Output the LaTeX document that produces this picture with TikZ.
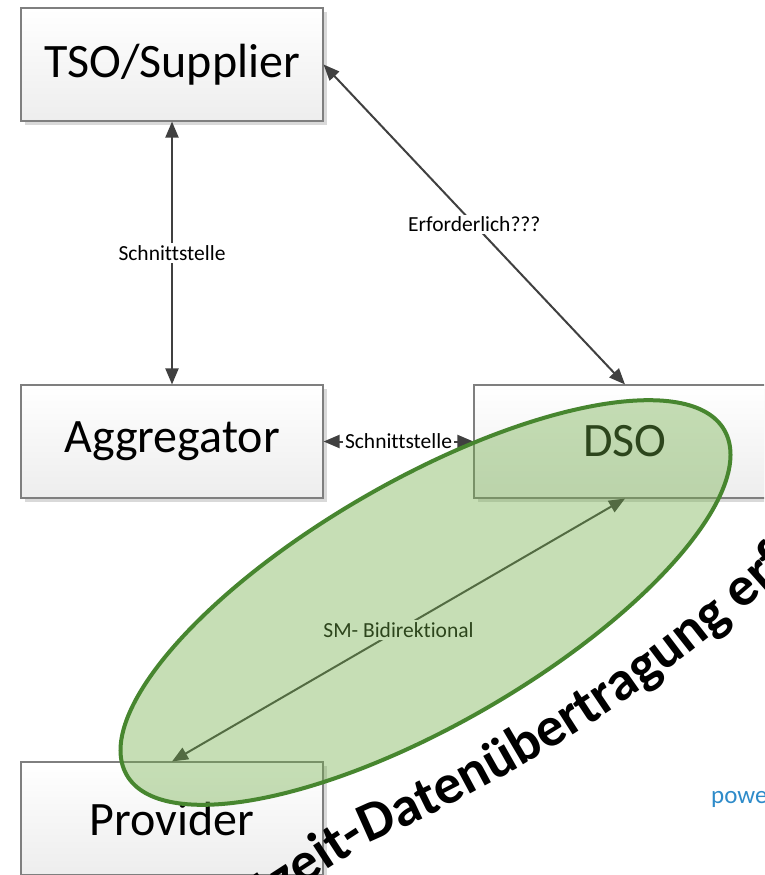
\documentclass[tikz,border=0pt]{standalone}
\usepackage{fontspec}
\setmainfont{Carlito}[Ligatures=NoCommon]
\usetikzlibrary{arrows.meta,shadows,decorations.text,calc}
\definecolor{boxline}{HTML}{7F7F7F}
\definecolor{linkgray}{HTML}{404040}
\definecolor{leafgreen}{HTML}{70AD47}
\definecolor{rimgreen}{HTML}{47862F}
\definecolor{logoblue}{HTML}{2E8BC9}
\begin{document}
\begin{tikzpicture}[x=1pt,y=-1pt,
  entity/.style={draw=boxline, line width=1.1pt, top color=white, bottom color=black!7,
    minimum width=302pt, minimum height=113pt, inner sep=0pt,
    font=\fontsize{48}{57}\selectfont,
    general shadow={fill=black!15, shadow xshift=4pt, shadow yshift=-4pt}},
  link/.style={draw=linkgray, line width=2pt,
    {Triangle[length=16pt,width=13pt]}-{Triangle[length=16pt,width=13pt]}},
  tag/.style={fill=white, inner sep=2pt, font=\fontsize{21.5}{25}\selectfont}]
\useasboundingbox (0,0) rectangle (764,875);
\clip (0,0) rectangle (764,875);

% actors
\node[entity] (tso)  at (172,64.5)  {TSO/Supplier};
\node[entity] (agg)  at (172,441.5) {Aggregator};
\node[entity] (dso)  at (625,441.5) {DSO};
\node[entity] (prov) at (172,818.5) {Provider};

% interfaces
\draw[link] (tso.south) -- node[tag] (l1) {Schnittstelle} (agg.north);
\draw[link] (tso.east) -- node[tag] (l2) {Erforderlich???} (dso.north);
\draw[link] (agg.east) -- node[tag] (l3) {Schnittstelle} (dso.west);
\draw[link] (prov.north) -- node[tag] (l4) {SM- Bidirektional} (dso.south);

% highlighted smart-meter link
\draw[rimgreen, line width=4pt, fill=leafgreen, fill opacity=0.4,
  rotate around={30:(425.5,602.5)}] (425.5,602.5) ellipse [x radius=345, y radius=122];

% remark: second half bends along a wide arc, first half runs straight into it
\coordinate (hub) at (-228.6,-532.8);
\coordinate (split) at ($(hub)+(66.57:1500)$);
\path[decorate, decoration={text along path, text align=right,
    text={|\bfseries\fontsize{56}{60}\selectfont|Echtzeit-}}]
  ($(split)+(147:260)$) -- (split);
\path[decorate, decoration={text along path, text align=left,
    text={|\bfseries\fontsize{56}{60}\selectfont|Datenübertragung erforderlich}}]
  (split) arc[start angle=66.57, end angle=30, radius=1500];

\node[anchor=base west, inner sep=0pt, text=logoblue,
  font=\fontsize{25}{29}\selectfont] (logo) at (711,803) {powered};
\end{tikzpicture}
\end{document}
